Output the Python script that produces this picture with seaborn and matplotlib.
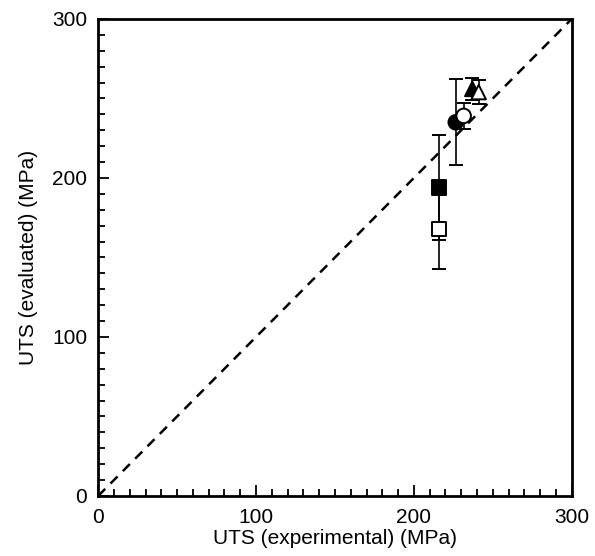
import numpy as np
import pandas as pd
import matplotlib
matplotlib.use('Agg')
import matplotlib.pyplot as plt
import seaborn as sns
from matplotlib.ticker import MultipleLocator

# valores
labels = ['A', 'B', 'C', 'D', 'E', 'F']
uts_exp = [216, 216, 226.5, 231.5, 237, 241]
uts_eval = [194, 168, 235, 239, 256, 254]
err_eval = [33, 25, 27, 8, 7, 7.5]
markers = ['s', 's', 'o', 'o', '^', '^']
faces = ['black', 'white', 'black', 'white', 'black', 'white']

df = pd.DataFrame({'exp': uts_exp, 'eval': uts_eval, 'err': err_eval, 'grupo': labels})

sns.set_style('ticks')
plt.rcParams['font.family'] = ['Liberation Sans', 'DejaVu Sans']
plt.rcParams['text.color'] = 'black'
plt.rcParams['axes.labelcolor'] = 'black'
plt.rcParams['xtick.color'] = 'black'
plt.rcParams['ytick.color'] = 'black'

fig, ax = plt.subplots(figsize=(5.95, 5.56), dpi=100)
fig.subplots_adjust(left=0.165, right=0.961, top=0.966, bottom=0.108)

# linha 1:1
sns.lineplot(x=[0, 300], y=[0, 300], ax=ax, color='black', linestyle=(0, (4, 3)), linewidth=1.8)

# barras de erro
for i, r in df.iterrows():
    ax.errorbar(r['exp'], r['eval'], yerr=r['err'], fmt='none', ecolor='black',
                elinewidth=1.2, capsize=5, capthick=1.4, zorder=2)

# marcadores
sns.scatterplot(data=df, x='exp', y='eval', style='grupo',
                markers=dict(zip(labels, markers)), ax=ax, legend=False,
                s=110, color='black', edgecolor='black', linewidth=1.4, zorder=3)
coll = ax.collections[-1]
coll.set_facecolors(faces)
coll.set_edgecolors(['black'] * len(faces))

ax.set_xlim(0, 300)
ax.set_ylim(0, 300)
ax.xaxis.set_major_locator(MultipleLocator(100))
ax.yaxis.set_major_locator(MultipleLocator(100))
ax.xaxis.set_minor_locator(MultipleLocator(10))
ax.yaxis.set_minor_locator(MultipleLocator(10))
ax.tick_params(which='both', direction='in', top=False, right=False, labelsize=15, width=1.3,
               colors='black')
ax.tick_params(which='major', length=8)
ax.tick_params(which='minor', length=5)
ax.tick_params(axis='y', which='major', pad=8)
ax.tick_params(axis='x', which='major', pad=9)
for s in ax.spines.values():
    s.set_linewidth(2)
    s.set_color('black')

ax.set_xlabel('UTS (experimental) (MPa)', fontsize=15, labelpad=1, color='black')
ax.set_ylabel('UTS (evaluated) (MPa)', fontsize=15, labelpad=10, color='black')

plt.savefig('out.png', dpi=100)
